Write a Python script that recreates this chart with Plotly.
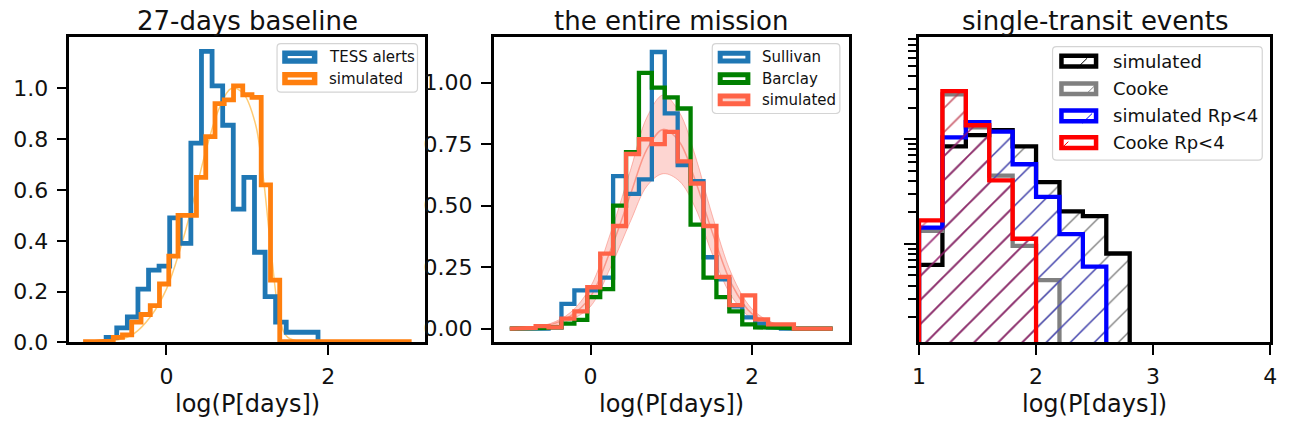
import plotly.graph_objects as go

W, H = 1292, 434
FONT = "DejaVu Sans"
INK = "#111111"

# ---------------- data: panel 1 "27-days baseline" ----------------
tess_edges = [-0.745, -0.614, -0.483, -0.352, -0.221, -0.091, 0.040, 0.171, 0.302, 0.433,
              0.564, 0.695, 0.826, 0.957, 1.088, 1.219, 1.349, 1.480, 1.611, 1.742, 1.873]
tess_values = [0.02, 0.057, 0.10, 0.21, 0.285, 0.30, 0.49, 0.39, 0.785, 1.146,
               1.01, 0.855, 0.525, 0.65, 0.355, 0.18, 0.08, 0.04, 0.04, 0.04]

sim27_edges = [-1.000, -0.886, -0.771, -0.657, -0.543, -0.429, -0.314, -0.200, -0.086, 0.029,
               0.143, 0.257, 0.371, 0.486, 0.600, 0.714, 0.829, 0.943, 1.057, 1.171,
               1.286, 1.400, 1.514, 1.629, 1.743, 1.857, 1.971, 2.086, 2.200, 2.314,
               2.429, 2.543, 2.657, 2.771, 2.886, 3.000]
sim27_values = [0.003, 0.003, 0.005, 0.02, 0.03, 0.08, 0.11, 0.145, 0.23, 0.34,
                0.50, 0.50, 0.65, 0.81, 0.94, 0.955, 1.01, 0.975, 0.965, 0.62,
                0.245, 0.003, 0.003, 0.003, 0.003, 0.003, 0.003, 0.003, 0.003, 0.003,
                0.003, 0.003, 0.003, 0.003, 0.003]

sim27_curve_x = [-1.0, -0.6, -0.4, -0.2, 0.0, 0.2, 0.35, 0.5, 0.65, 0.8, 0.95,
                 1.1, 1.2, 1.3, 1.4, 1.5, 2.0, 3.0]
sim27_curve_y = [0.0, 0.01, 0.035, 0.10, 0.21, 0.40, 0.58, 0.77, 0.92, 1.00, 0.98,
                 0.86, 0.64, 0.34, 0.10, 0.02, 0.0, 0.0]

# ---------------- data: panel 2 "the entire mission" ----------------
mission_edges = [-1.00, -0.84, -0.68, -0.52, -0.36, -0.20, -0.04, 0.12, 0.28, 0.44,
                 0.60, 0.76, 0.92, 1.08, 1.24, 1.40, 1.56, 1.72, 1.88, 2.04,
                 2.20, 2.36, 2.52, 2.68, 2.84, 3.00]
sullivan_values = [0.0, 0.0, 0.0, 0.005, 0.10, 0.155, 0.155, 0.207, 0.62, 0.548,
                   0.607, 1.125, 0.875, 0.665, 0.60, 0.29, 0.20, 0.09, 0.045, 0.02,
                   0.005, 0.0, 0.0, 0.0, 0.0]
barclay_values = [0.0, 0.0, 0.003, 0.005, 0.02, 0.035, 0.128, 0.16, 0.50, 0.718,
                  1.04, 0.98, 0.94, 0.895, 0.423, 0.207, 0.128, 0.07, 0.017, 0.005,
                  0.003, 0.002, 0.0, 0.0, 0.0]
simulated_values = [0.0, 0.003, 0.01, 0.005, 0.04, 0.07, 0.168, 0.305, 0.417, 0.71,
                    0.77, 0.75, 0.80, 0.68, 0.59, 0.417, 0.21, 0.095, 0.135, 0.037,
                    0.017, 0.017, 0.0, 0.0, 0.0]

band_x = [-1.0, -0.75, -0.5, -0.25, 0.0, 0.25, 0.5, 0.7, 0.9, 1.1, 1.3, 1.5, 1.75, 2.0, 2.25, 2.5, 3.0]
band_upper = [0.0, 0.005, 0.02, 0.065, 0.17, 0.39, 0.65, 0.86, 0.95, 0.88, 0.70, 0.47, 0.22, 0.08, 0.025, 0.006, 0.0]
band_mid = [0.0, 0.004, 0.015, 0.05, 0.13, 0.32, 0.55, 0.73, 0.81, 0.76, 0.60, 0.40, 0.18, 0.06, 0.018, 0.004, 0.0]
band_lower = [0.0, 0.002, 0.01, 0.035, 0.09, 0.25, 0.44, 0.58, 0.63, 0.60, 0.49, 0.31, 0.13, 0.04, 0.01, 0.002, 0.0]

# ---------------- data: panel 3 "single-transit events" ----------------
st_edges = [1.0, 1.2, 1.4, 1.6, 1.8, 2.0, 2.2, 2.4, 2.6, 2.8]
st_simulated = [6.3, 85.5, 109.6, 122.0, 85.5, 38.9, 20.5, 18.4, 8.1]
st_cooke = [13.3, 268.5, 130.0, 44.9, 9.6, 4.5]
st_simulated_small = [14.3, 104.0, 146.0, 118.0, 57.7, 28.2, 12.4, 6.07]
st_cooke_small = [16.8, 288.0, 136.0, 40.4, 11.2]

# tick labels
p1_yticks = [0.0, 0.2, 0.4, 0.6, 0.8, 1.0]
p1_yticklabels = ["0.0", "0.2", "0.4", "0.6", "0.8", "1.0"]
p2_yticks = [0.0, 0.25, 0.5, 0.75, 1.0]
p2_yticklabels = ["0.00", "0.25", "0.50", "0.75", "1.00"]
p12_xticks = [0, 2]
p3_xticks = [1, 2, 3, 4]
titles = ["27-days baseline", "the entire mission", "single-transit events"]
xlabel = "log(P[days])"


def step_xy(edges, values, floor=0.0):
    xs, ys = [edges[0]], [floor]
    for i, v in enumerate(values):
        xs += [edges[i], edges[i + 1]]
        ys += [v, v]
    xs.append(edges[len(values)])
    ys.append(floor)
    return xs, ys


def px(x):
    return x / W


def py(y):
    return 1 - y / H


fig = go.Figure()

# ---- panel 1 ----
fig.add_trace(go.Scatter(x=sim27_curve_x, y=sim27_curve_y, mode="lines",
                         line=dict(color="rgba(255,185,70,0.75)", width=1.5, shape="spline"),
                         xaxis="x", yaxis="y", showlegend=False, hoverinfo="skip"))
x, y = step_xy(tess_edges, tess_values)
fig.add_trace(go.Scatter(x=x, y=y, mode="lines", line=dict(color="#1f77b4", width=4.8),
                         xaxis="x", yaxis="y", name="TESS alerts", showlegend=False))
x, y = step_xy(sim27_edges, sim27_values)
fig.add_trace(go.Scatter(x=x, y=y, mode="lines", line=dict(color="#ff7f0e", width=4.8),
                         xaxis="x", yaxis="y", name="simulated", showlegend=False))

# ---- panel 2 ----
fig.add_trace(go.Scatter(x=band_x, y=band_lower, mode="lines",
                         line=dict(color="rgba(250,128,114,0.55)", width=1, shape="spline"),
                         xaxis="x2", yaxis="y2", showlegend=False, hoverinfo="skip"))
fig.add_trace(go.Scatter(x=band_x, y=band_upper, mode="lines", fill="tonexty",
                         fillcolor="rgba(250,128,114,0.33)",
                         line=dict(color="rgba(250,128,114,0.55)", width=1, shape="spline"),
                         xaxis="x2", yaxis="y2", showlegend=False, hoverinfo="skip"))
fig.add_trace(go.Scatter(x=band_x, y=band_mid, mode="lines",
                         line=dict(color="rgba(250,110,90,0.6)", width=1.5, shape="spline"),
                         xaxis="x2", yaxis="y2", showlegend=False, hoverinfo="skip"))
for vals, col, nm in [(sullivan_values, "#1f77b4", "Sullivan"),
                      (barclay_values, "#008000", "Barclay"),
                      (simulated_values, "#ff6347", "simulated")]:
    x, y = step_xy(mission_edges, vals)
    fig.add_trace(go.Scatter(x=x, y=y, mode="lines", line=dict(color=col, width=4.3),
                             xaxis="x2", yaxis="y2", name=nm, showlegend=False))

# ---- panel 3 ----
FLOOR = 0.3
for vals, col, hcol, sol, nm in [(st_simulated, "#000000", "#000000", 0.08, "simulated"),
                                 (st_cooke, "#808080", "#808080", 0.07, "Cooke"),
                                 (st_simulated_small, "#0000ff", "#0000ff", 0.07, "simulated Rp<4"),
                                 (st_cooke_small, "#ff0000", "#d4102c", 0.11, "Cooke Rp<4")]:
    x, y = step_xy(st_edges, vals, FLOOR)
    fig.add_trace(go.Scatter(x=x, y=y, mode="lines", fill="toself",
                             fillcolor="rgba(0,0,0,0)",
                             fillpattern=dict(shape="/", size=17, solidity=sol,
                                              fgcolor=hcol, bgcolor="rgba(0,0,0,0)"),
                             line=dict(color=col, width=4.3),
                             xaxis="x3", yaxis="y3", name=nm, showlegend=False))

axis_common = dict(showline=True, linecolor="black", linewidth=2.5, mirror=True,
                   ticks="outside", ticklen=10, tickwidth=2, tickcolor="black",
                   showgrid=False, zeroline=False,
                   tickfont=dict(family=FONT, size=22, color=INK))

d1 = [px(63), px(423)]
d2 = [px(492), px(851)]
d3 = [px(922), px(1277)]
ydom = [py(353), py(38)]

fig.update_layout(
    width=W, height=H, margin=dict(l=0, r=0, t=0, b=0),
    paper_bgcolor="white", plot_bgcolor="white", showlegend=False,
    xaxis=dict(domain=d1, range=[-1.2, 3.2], tickmode="array", tickvals=p12_xticks,
               anchor="y", ticklabelstandoff=2, **axis_common),
    yaxis=dict(domain=ydom, range=[0, 1.203], tickmode="array", tickvals=p1_yticks,
               ticktext=p1_yticklabels, anchor="x", ticklabelstandoff=4, **axis_common),
    xaxis2=dict(domain=d2, range=[-1.2, 3.2], tickmode="array", tickvals=p12_xticks,
                anchor="y2", ticklabelstandoff=2, **axis_common),
    yaxis2=dict(domain=ydom, range=[-0.0565, 1.1865], tickmode="array", tickvals=p2_yticks,
                ticktext=p2_yticklabels, anchor="x2", ticklabelstandoff=4, **axis_common),
    xaxis3=dict(domain=d3, range=[1, 4], tickmode="array", tickvals=p3_xticks,
                anchor="y3", ticklabelstandoff=2, **axis_common),
    yaxis3=dict(domain=ydom, type="log", range=[0.059, 2.978], tickmode="array",
                tickvals=[10, 100], showticklabels=False, anchor="x3",
                minor=dict(ticks="outside", ticklen=8, tickwidth=1.5, tickcolor="black",
                           tickmode="array",
                           tickvals=[m * d for d in (1, 10, 100) for m in range(2, 10)]),
                **{**axis_common, "ticklen": 12}),
)

shapes = []
annotations = []

# titles and x labels
for t, dom in zip(titles, [d1, d2, d3]):
    cx = (dom[0] + dom[1]) / 2
    annotations.append(dict(text=t, x=cx, y=py(22), xref="paper", yref="paper",
                            xanchor="center", yanchor="middle", showarrow=False,
                            font=dict(family=FONT, size=26, color=INK)))
    annotations.append(dict(text=xlabel, x=cx, y=py(416), xref="paper", yref="paper",
                            xanchor="center", yanchor="middle", showarrow=False,
                            font=dict(family=FONT, size=24, color=INK)))


def legend_box(x0, y0, x1, y1, r=4):
    pts = lambda a, b: f"{px(a):.5f},{py(b):.5f}"
    path = (f"M{pts(x0 + r, y0)} L{pts(x1 - r, y0)} Q{pts(x1, y0)} {pts(x1, y0 + r)} "
            f"L{pts(x1, y1 - r)} Q{pts(x1, y1)} {pts(x1 - r, y1)} "
            f"L{pts(x0 + r, y1)} Q{pts(x0, y1)} {pts(x0, y1 - r)} "
            f"L{pts(x0, y0 + r)} Q{pts(x0, y0)} {pts(x0 + r, y0)} Z")
    shapes.append(dict(type="path", path=path, xref="paper", yref="paper",
                       line=dict(color="#d4d4d4", width=1.2), fillcolor="rgba(255,255,255,0.85)",
                       layer="above"))


def swatch(x0, x1, yc, hh, col, lw, fill="white"):
    shapes.append(dict(type="rect", xref="paper", yref="paper",
                       x0=px(x0), x1=px(x1), y0=py(yc + hh), y1=py(yc - hh),
                       line=dict(color=col, width=lw), fillcolor=fill, layer="above"))


def label(text, x, yc, size):
    annotations.append(dict(text=text, x=px(x), y=py(yc), xref="paper", yref="paper",
                            xanchor="left", yanchor="middle", showarrow=False,
                            font=dict(family=FONT, size=size, color=INK)))


# legend 1
legend_box(273, 45, 415, 95)
for (nm, col), yc in zip([("TESS alerts", "#1f77b4"), ("simulated", "#ff7f0e")], [59, 81]):
    swatch(281, 311, yc, 4, col, 5.5)
    label(nm, 324, yc, 15)

# legend 2
legend_box(713, 45, 842, 117)
for (nm, col, f), yc in zip([("Sullivan", "#1f77b4", "white"), ("Barclay", "#008000", "white"),
                             ("simulated", "#ff6347", "#fbd3cc")], [59, 81, 103]):
    swatch(721, 749, yc, 4, col, 5, fill=f)
    label(nm, 761, yc, 15)

# legend 3
legend_box(1057, 48, 1269, 165)
leg3 = [("simulated", "#000000", "#000000", 63, (1082, 70, 1092, 60)),
        ("Cooke", "#808080", "#808080", 91.5, (1090, 98, 1100, 88)),
        ("simulated Rp<4", "#0000ff", "#0000ff", 119.5, (1087, 127, 1097, 117)),
        ("Cooke Rp<4", "#ff0000", "#ff0000", 147, (1066, 153, 1073, 146))]
for nm, col, hcol, yc, hl in leg3:
    swatch(1066, 1101, yc, 5.5, col, 4.5)
    shapes.append(dict(type="line", xref="paper", yref="paper",
                       x0=px(hl[0]), y0=py(hl[1]), x1=px(hl[2]), y1=py(hl[3]),
                       line=dict(color=hcol, width=1), layer="above"))
    label(nm, 1116, yc, 18)

fig.update_layout(shapes=shapes, annotations=annotations)
fig.write_html("out.html", config={"displayModeBar": False},
               post_script="document.body.style.margin='0';document.body.style.padding='0';"
                           "document.body.style.overflow='hidden';")
